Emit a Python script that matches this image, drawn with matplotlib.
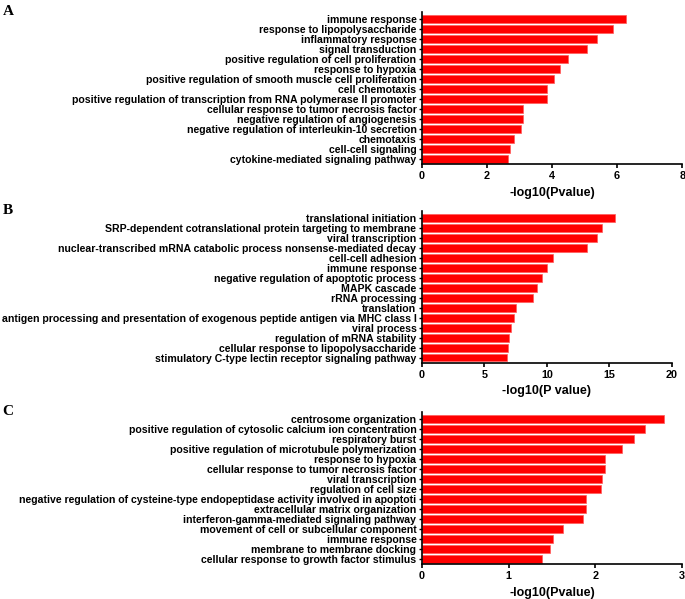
import numpy as np
import matplotlib
matplotlib.use("Agg")
import matplotlib.pyplot as plt

plt.rcParams['font.family'] = ['Liberation Sans', 'DejaVu Sans']
plt.rcParams['font.weight'] = 'bold'

# panel A
terms_a = ["immune response", "response to lipopolysaccharide", "inflammatory response",
           "signal transduction", "positive regulation of cell proliferation",
           "response to hypoxia", "positive regulation of smooth muscle cell proliferation",
           "cell chemotaxis",
           "positive regulation of transcription from RNA polymerase II promoter",
           "cellular response to tumor necrosis factor", "negative regulation of angiogenesis",
           "negative regulation of interleukin-10 secretion", "chemotaxis",
           "cell-cell signaling", "cytokine-mediated signaling pathway"]
vals_a = [6.28, 5.87, 5.37, 5.08, 4.50, 4.23, 4.07, 3.84, 3.84, 3.12, 3.10, 3.05, 2.84, 2.70, 2.65]

# panel B
terms_b = ["translational initiation", "SRP-dependent cotranslational protein targeting to membrane",
           "viral transcription",
           "nuclear-transcribed mRNA catabolic process nonsense-mediated decay",
           "cell-cell adhesion", "immune response", "negative regulation of apoptotic process",
           "MAPK cascade", "rRNA processing", "translation",
           "antigen processing and presentation of exogenous peptide antigen via MHC class I",
           "viral process", "regulation of mRNA stability",
           "cellular response to lipopolysaccharide",
           "stimulatory C-type lectin receptor signaling pathway"]
vals_b = [15.45, 14.42, 14.0, 13.19, 10.47, 9.98, 9.63, 9.21, 8.87, 7.50, 7.40, 7.09, 6.95, 6.91, 6.81]

# panel C
terms_c = ["centrosome organization", "positive regulation of cytosolic calcium ion concentration",
           "respiratory burst", "positive regulation of microtubule polymerization",
           "response to hypoxia", "cellular response to tumor necrosis factor",
           "viral transcription", "regulation of cell size",
           "negative regulation of cysteine-type endopeptidase activity involved in apoptoti",
           "extracellular matrix organization", "interferon-gamma-mediated signaling pathway",
           "movement of cell or subcellular component", "immune response",
           "membrane to membrane docking", "cellular response to growth factor stimulus"]
vals_c = [2.79, 2.57, 2.44, 2.31, 2.11, 2.11, 2.08, 2.06, 1.89, 1.89, 1.86, 1.63, 1.51, 1.47, 1.38]

# letter, terms, values, xmax, ticks, xlabel, bottom, width
panels = [
    ("A", terms_a, vals_a, 8, [0, 2, 4, 6, 8], "-log10(Pvalue)", 0.7262, 0.380),
    ("B", terms_b, vals_b, 20, [0, 5, 10, 15, 20], "-log10(P value)", 0.394, 0.365),
    ("C", terms_c, vals_c, 3, [0, 1, 2, 3], "-log10(Pvalue)", 0.0584, 0.380),
]

fig = plt.figure(figsize=(6.85, 5.99), dpi=100)

for letter, terms, vals, xmax, ticks, xlab, bottom, width in panels:
    ax = fig.add_axes([0.616, bottom, width, 0.2538])
    y = np.arange(len(terms))
    ax.barh(y, vals, height=0.8, color='#ff0000', edgecolor='#ff5a5a', linewidth=0.5)
    ax.set_ylim(14.55, -0.7)
    ax.set_xlim(0, xmax)
    ax.set_yticks(y)
    ax.set_yticklabels(terms, fontsize=7.6, fontweight='bold')
    ax.set_xticks(ticks)
    ax.set_xticklabels([str(t) for t in ticks], fontsize=7.8, fontweight='bold')
    ax.set_xlabel(xlab, fontsize=9, fontweight='bold', labelpad=4)
    for s in ['top', 'right']:
        ax.spines[s].set_visible(False)
    for s in ['left', 'bottom']:
        ax.spines[s].set_linewidth(1.2)
    ax.tick_params(axis='y', length=2.5, width=1, pad=1.5)
    ax.tick_params(axis='x', length=3, width=1.2, pad=2)
    fig.text(0.004, bottom + 0.2538, letter, fontsize=11, fontweight='bold',
             family='Liberation Serif', va='center', ha='left')

fig.savefig("out.png", dpi=100)
